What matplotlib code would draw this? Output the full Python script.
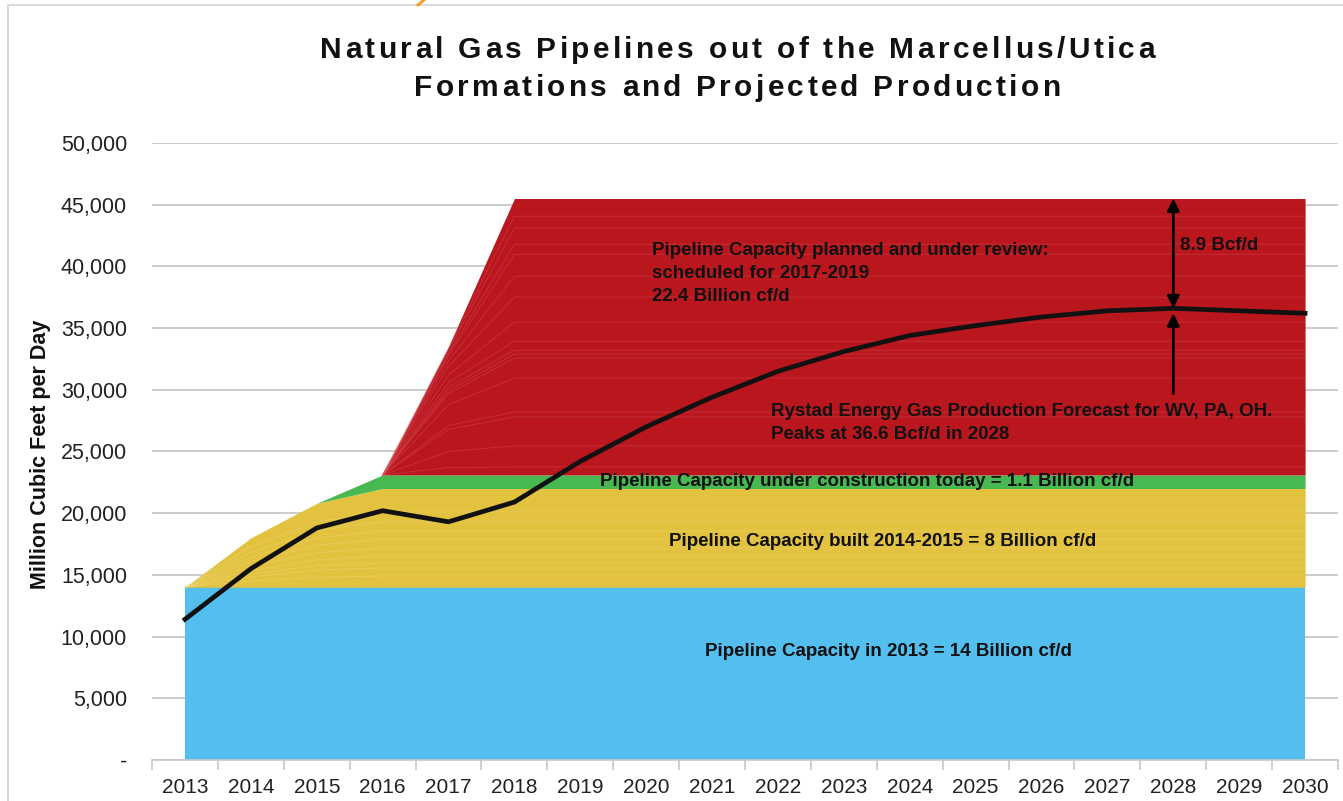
import numpy as np
import matplotlib.pyplot as plt
from matplotlib.patches import Rectangle
from matplotlib.lines import Line2D

plt.rcParams['font.family'] = ['Liberation Sans', 'DejaVu Sans']

# =====================================================================
# DATA (million cubic feet per day)
# =====================================================================
years = [str(y) for y in range(2013, 2031)]

# pipeline capacity in 2013
base_2013 = [14000] * 18

# pipelines built 2014-2015 (individual projects, 2013..2016, then flat)
built_1415 = [
    [0, 500, 800, 910],
    [0, 350, 600, 650],
    [0, 200, 350, 400],
    [0, 300, 480, 570],
    [0, 350, 560, 650],
    [0, 400, 620, 730],
    [0, 350, 560, 650],
    [0, 400, 620, 730],
    [0, 450, 700, 810],
    [0, 700, 1510, 1900],
]

# under construction today
under_construction = [0, 0, 0, 1100] + [1100] * 14

# planned and under review (individual projects, values for 2016, 2017, 2018+)
planned = [
    [0, 600, 650],
    [0, 1300, 1700],
    [0, 1800, 2350],
    [0, 300, 400],
    [0, 1700, 2750],
    [0, 900, 1620],
    [0, 250, 320],
    [0, 250, 320],
    [0, 400, 730],
    [0, 600, 1540],
    [0, 700, 2030],
    [0, 450, 1700],
    [0, 400, 1780],
    [0, 200, 810],
    [0, 250, 1300],
    [0, 150, 970],
    [0, 150, 1430],
]

# Rystad Energy production forecast for WV, PA, OH
production = [11400, 15500, 18800, 20200, 19300, 20900, 24200, 27000, 29400,
              31500, 33100, 34400, 35200, 35900, 36400, 36600, 36400, 36200]

title_lines = ['Natural Gas Pipelines out of the Marcellus/Utica',
               'Formations and Projected Production']

# =====================================================================
# BUILD STACKS
# =====================================================================
x = np.arange(len(years))
yellow_layers = [np.array(p + [p[-1]] * 14, dtype=float) for p in built_1415]
red_layers = [np.array([0, 0, 0] + p + [p[-1]] * 12, dtype=float) for p in planned]

blue_top = np.array(base_2013, dtype=float)
yellow_cum = blue_top + np.cumsum(yellow_layers, axis=0)
green_top = yellow_cum[-1] + np.array(under_construction, dtype=float)
red_cum = green_top + np.cumsum(red_layers, axis=0)

c_blue = '#53BFEE'
c_yellow = '#E2C23E'
c_green = '#48B853'
c_red = '#B9161E'

W, H = 1343, 801
fig = plt.figure(figsize=(W / 100, H / 100), dpi=100)
ax = fig.add_axes([0.1132, 0.0512, 0.8831, 0.7703])

ax.fill_between(x, 0, blue_top, color=c_blue, lw=0, zorder=2)
ax.fill_between(x, blue_top, yellow_cum[-1], color=c_yellow, lw=0, zorder=2)
ax.fill_between(x, yellow_cum[-1], green_top, color=c_green, lw=0, zorder=2)
ax.fill_between(x, green_top, red_cum[-1], color=c_red, lw=0, zorder=2)

# faint separators between individual pipeline projects
for top in yellow_cum[:-1]:
    ax.plot(x, top, color='#F0DA86', lw=0.6, alpha=0.45, zorder=3)
for top in red_cum[:-1]:
    ax.plot(x[3:], top[3:], color='#D8575C', lw=0.6, alpha=0.45, zorder=3)

ax.plot(x, production, color='#111111', lw=3.4, zorder=5, solid_joinstyle='round')

# arrows at 2028
i28 = years.index('2028')
ax.annotate('', xy=(i28, red_cum[-1][i28]), xytext=(i28, production[i28]),
            arrowprops=dict(arrowstyle='<|-|>', color='black', lw=2,
                            mutation_scale=18, shrinkA=0, shrinkB=0), zorder=6)
ax.annotate('', xy=(i28, production[i28] - 400), xytext=(i28, 29700),
            arrowprops=dict(arrowstyle='-|>', color='black', lw=2,
                            mutation_scale=18, shrinkA=0, shrinkB=0), zorder=6)

txt = dict(fontsize=13.5, fontweight='bold', color='#111111', zorder=7)
ax.text(i28 + 0.1, 41700, '8.9 Bcf/d', ha='left', va='center', **txt)
ax.text(7.09, 41980, 'Pipeline Capacity planned and under review:\nscheduled for 2017-2019\n22.4 Billion cf/d',
        ha='left', va='top', linespacing=1.45, **txt)
ax.text(8.9, 27300, 'Rystad Energy Gas Production Forecast for WV, PA, OH.\nPeaks at 36.6 Bcf/d in 2028',
        ha='left', va='center', linespacing=1.5, **txt)
ax.text(10.35, 22550, 'Pipeline Capacity under construction today = 1.1 Billion cf/d',
        ha='center', va='center', **txt)
ax.text(10.59, 17700, 'Pipeline Capacity built 2014-2015 = 8 Billion cf/d',
        ha='center', va='center', **txt)
ax.text(10.67, 8800, 'Pipeline Capacity in 2013 = 14 Billion cf/d',
        ha='center', va='center', **txt)

# axes styling
ax.set_xlim(-0.5, len(years) - 0.5)
ax.set_ylim(0, 50000)
yticks = np.arange(0, 50001, 5000)
ax.set_yticks(yticks)
ax.set_yticklabels(['-'] + [f'{v:,}' for v in yticks[1:]])
ax.set_xticks(x)
ax.set_xticklabels(years)
ax.set_xticks(np.arange(-0.5, len(years)), minor=True)
ax.tick_params(axis='x', which='major', length=0, labelsize=15, colors='#222222', pad=13)
ax.tick_params(axis='x', which='minor', length=7, color='#C8C8C8', width=1.2)
ax.tick_params(axis='y', length=0, labelsize=15.5, colors='#222222', pad=18)
ax.grid(axis='y', color='#C8C8C8', lw=1.3, zorder=0)
ax.set_axisbelow(True)
for s in ['top', 'right', 'left']:
    ax.spines[s].set_visible(False)
ax.spines['bottom'].set_color('#C8C8C8')
ax.spines['bottom'].set_linewidth(1.2)
ax.set_ylabel('Million Cubic Feet per Day', fontsize=15.5, fontweight='bold', color='#111111')
ax.yaxis.set_label_coords(41 / W, 1 - 454 / H, transform=fig.transFigure)
ax.yaxis.label.set_va('center')

# title with letter spacing (characters placed one by one)
renderer = fig.canvas.get_renderer()
title_kw = dict(fontsize=21.5, fontweight='bold', color='#111111')


def ink_width(s):
    t = fig.text(0, 0, s, **title_kw)
    w = t.get_window_extent(renderer).width
    t.remove()
    return w


letter_gap = 3.3
for line, base_px in zip(title_lines, [58, 96]):
    total = ink_width(line) + letter_gap * (len(line) - 1)
    start = 737.5 - total / 2
    for i, ch in enumerate(line):
        if ch == ' ':
            continue
        off = ink_width(line[:i + 1]) - ink_width(ch)
        fig.text((start + off + letter_gap * i) / W, 1 - base_px / H, ch,
                 ha='left', va='baseline', **title_kw)

# outer frame and a small orange mark at the top edge
fig.add_artist(Rectangle((8 / W, -0.01), 1.0, 1 - 5 / H + 0.01, transform=fig.transFigure,
                         fill=False, edgecolor='#D4D4D4', lw=1.2))
fig.add_artist(Line2D([418 / W, 424 / W], [1 - 5 / H, 1.0], transform=fig.transFigure,
                      color='#F39A1E', lw=2))

fig.savefig('out.png', dpi=100)
